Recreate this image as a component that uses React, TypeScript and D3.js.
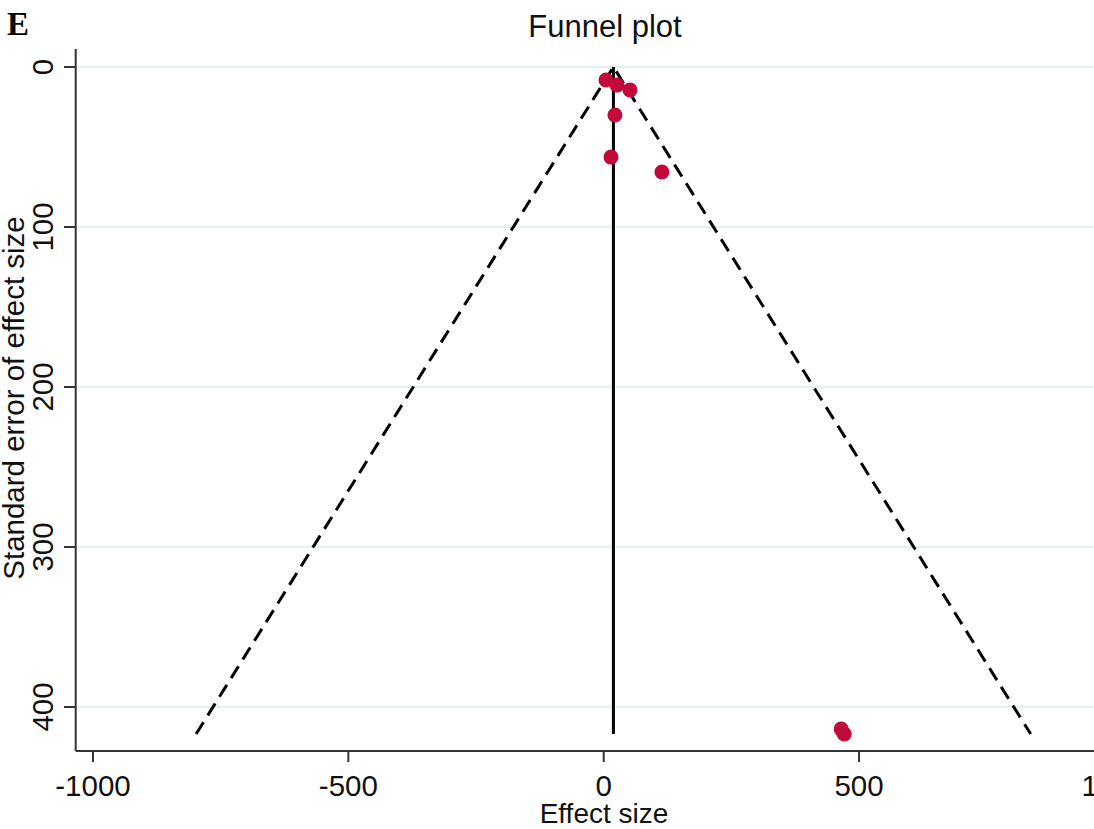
import React from "react";
import * as d3 from "d3";

// study estimates
const effects = [4.5, 26, 51.5, 22, 14.3, 114, 465, 471];
const stdErrors = [8.1, 11.3, 14.4, 30, 56.3, 65.6, 413.8, 416.9];
const summaryEffect = 19;
const xTicks = [-1000, -500, 0, 500, 1000];
const yTicks = [0, 100, 200, 300, 400];

const W = 1094;
const H = 829;
const font = "Liberation Sans, Arial, sans-serif";

const App = () => {
  const x = d3.scaleLinear().domain([-1000, 1000]).range([93, 1114.4]);
  const y = d3.scaleLinear().domain([0, 400]).range([67, 707]);

  const axisX = 75.7;
  const axisY = 751;
  const top = 49;

  const maxSE = d3.max(stdErrors) as number;
  const half = 1.96 * maxSE;
  const funnel = d3
    .line<[number, number]>()
    .x((d) => x(d[0]))
    .y((d) => y(d[1]))([
    [summaryEffect - half, maxSE],
    [summaryEffect, 0],
    [summaryEffect + half, maxSE],
  ]);

  return (
    <svg
      width={W}
      height={H}
      style={{ position: "absolute", left: 0, top: 0, background: "#fff" }}
      fontFamily={font}
    >
      <rect width={W} height={H} fill="#fff" />
      <text x={7} y={35} fontFamily="Liberation Serif, Times New Roman, serif" fontWeight="bold" fontSize={33}>
        E
      </text>
      <text x={605} y={37} textAnchor="middle" fontSize={31} fill="#111">
        Funnel plot
      </text>

      {/* grid */}
      {yTicks.map((t) => (
        <line key={"g" + t} x1={axisX} x2={W} y1={y(t)} y2={y(t)} stroke="#e6eff1" strokeWidth={2} />
      ))}

      {/* funnel */}
      <path d={funnel || ""} fill="none" stroke="#000" strokeWidth={3} strokeDasharray="14,8" />
      <line x1={x(summaryEffect)} x2={x(summaryEffect)} y1={y(0)} y2={y(maxSE)} stroke="#000" strokeWidth={3} />

      {/* points */}
      {effects.map((e, i) => (
        <circle key={i} cx={x(e)} cy={y(stdErrors[i])} r={7.5} fill="#c1093a" />
      ))}

      {/* y axis */}
      <line x1={axisX} x2={axisX} y1={top} y2={axisY} stroke="#333" strokeWidth={2} />
      {yTicks.map((t) => (
        <g key={"y" + t}>
          <line x1={64} x2={axisX} y1={y(t)} y2={y(t)} stroke="#333" strokeWidth={2} />
          <text
            transform={`translate(53,${y(t)}) rotate(-90)`}
            textAnchor="middle"
            fontSize={29.5}
            fill="#111"
          >
            {t}
          </text>
        </g>
      ))}
      <text transform={`translate(24,398) rotate(-90)`} textAnchor="middle" fontSize={29.5} fill="#111">
        Standard error of effect size
      </text>

      {/* x axis */}
      <line x1={axisX} x2={W} y1={axisY} y2={axisY} stroke="#333" strokeWidth={2} />
      {xTicks.map((t) => (
        <g key={"x" + t}>
          <line x1={x(t)} x2={x(t)} y1={axisY} y2={762} stroke="#333" strokeWidth={2} />
          <text x={x(t)} y={796} textAnchor="middle" fontSize={29.5} fill="#111">
            {t}
          </text>
        </g>
      ))}
      <text x={604} y={823} textAnchor="middle" fontSize={28} fill="#111">
        Effect size
      </text>
    </svg>
  );
};

export default App;
